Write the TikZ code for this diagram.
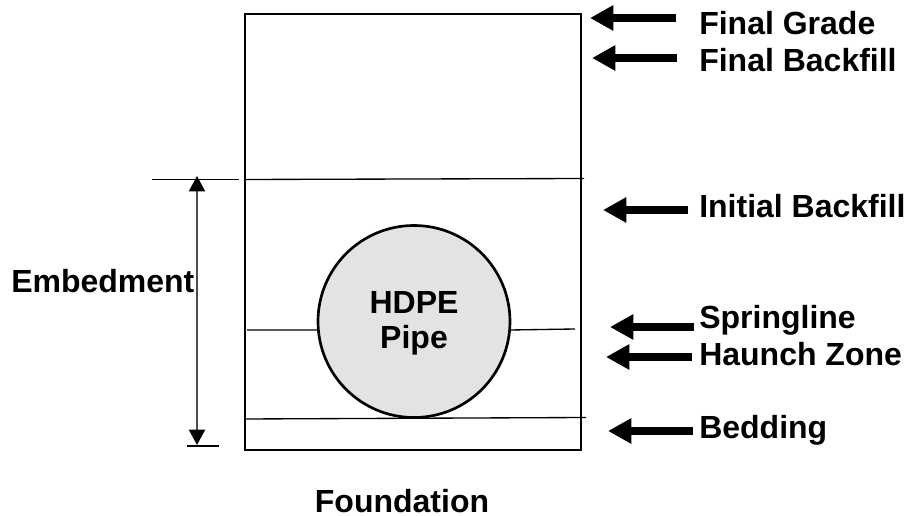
\documentclass[tikz,border=0pt]{standalone}
\usepackage{fontspec}
\setmainfont{Liberation Sans}
\usetikzlibrary{arrows.meta}
\tikzset{
	every node/.style={font=\fontsize{24}{28}\selectfont\bfseries, inner sep=0pt},
	bigarrow/.style={line width=6pt, -{Triangle[length=17.5pt, width=18pt]}},
	thinline/.style={line width=1pt},
	dimline/.style={line width=1.5pt, {Triangle[length=11.5pt, width=12pt, color=black]}-{Triangle[length=11.5pt, width=12pt, color=black]}, black!70},
}
\begin{document}
\begin{tikzpicture}[x=0.75pt, y=-0.75pt]
	\useasboundingbox (0,0) rectangle (908,516);
	\node[draw, line width=2pt, minimum width=252pt, minimum height=327pt] (trench) at (413,232) {};
	\node[circle, draw, fill=black!11, line width=2pt, minimum size=144pt] (pipe) at (414,321.5) {};
	\node[anchor=base] (hdpe) at (414,314) {HDPE};
	\node[anchor=base] (pipelabel) at (414,349) {Pipe};
	\node[anchor=base west] (embedment) at (11,293) {Embedment};
	\node[anchor=base] (foundation) at (402,513) {Foundation};
	\foreach \n/\t/\x/\y/\tip/\tail/\ya in {grade/Final Grade/699/35/590/676/18,
		finalfill/Final Backfill/699/72/592/677/58,
		initfill/Initial Backfill/699/218/603/688/210,
		spring/Springline/699/329/610/694/327,
		haunch/Haunch Zone/699/366/606/692/357,
		bedding/Bedding/699/439/608/693/431}{
		\node[anchor=base west] (\n) at (\x,\y) {\t};
		\coordinate (\n tail) at (\tail,\ya);
		\coordinate (\n tip) at (\tip,\ya);
		\draw[bigarrow] (\n tail) -- (\n tip);
	}
	\coordinate (topL) at (245,179.5);
	\coordinate (topR) at (584,178.5);
	\coordinate (tickL) at (152,179.5);
	\coordinate (tickR) at (239,179.5);
	\coordinate (lowL) at (187,446);
	\coordinate (lowR) at (219,446);
	\coordinate (dimtop) at (197,176);
	\coordinate (dimlow) at (197,445);
	\coordinate (springL) at (247,330);
	\coordinate (springR) at (575,329);
	\coordinate (bedL) at (245,419);
	\coordinate (bedR) at (586,417.5);
	\draw[thinline] (topL) -- (topR);
	\draw[thinline] (tickL) -- (tickR);
	\draw[thinline] (lowL) -- (lowR);
	\draw[thinline] (springL) -- (pipe.185);
	\draw[thinline] (pipe.-5) -- (springR);
	\draw[thinline] (bedL) -- (bedR);
	\draw[dimline] (dimtop) -- (dimlow);
\end{tikzpicture}
\end{document}
